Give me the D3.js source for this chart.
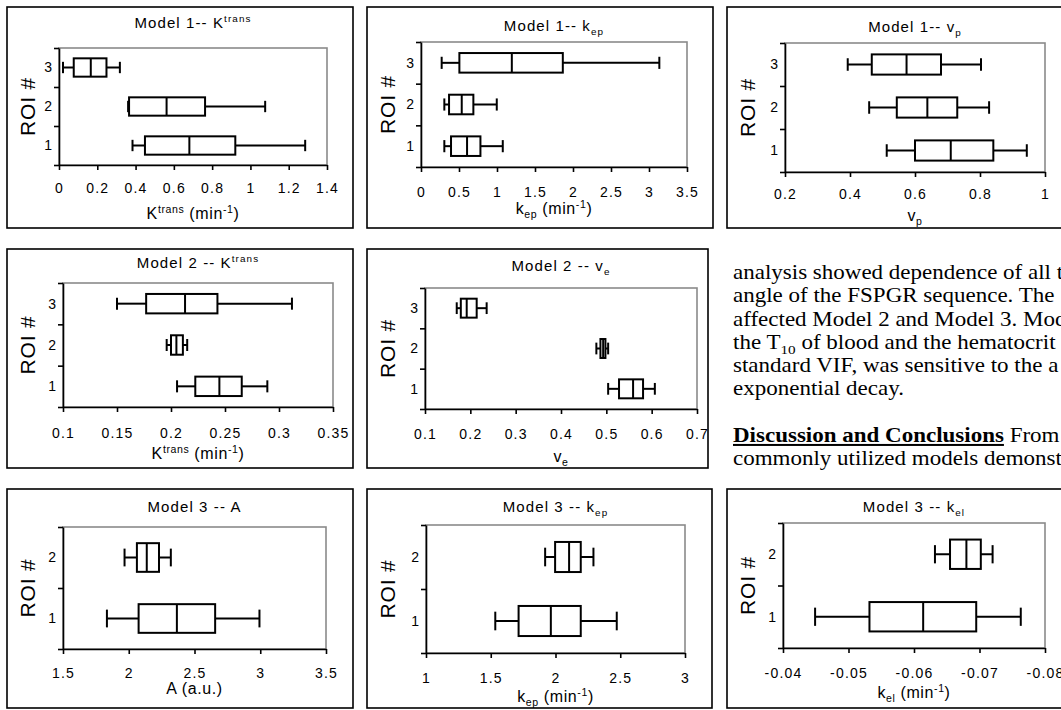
<!DOCTYPE html>
<html>
<head>
<meta charset="utf-8">
<script src="https://cdn.jsdelivr.net/npm/d3@7/dist/d3.min.js"></script>
<style>
  body { margin: 0; background: #fff; }
  svg { display: block; }
</style>
</head>
<body>
<svg id="fig" width="1061" height="710"></svg>
<script>

// five-number summaries per ROI: [min, q1, median, q3, max], ROI 1 first
var m1Ktrans = [[0.384, 0.449, 0.681, 0.921, 1.286], [0.361, 0.366, 0.562, 0.763, 1.077], [0.021, 0.077, 0.166, 0.248, 0.318]];
var m1Kep    = [[0.307, 0.395, 0.606, 0.782, 1.076], [0.307, 0.369, 0.536, 0.689, 0.997], [0.272, 0.505, 1.195, 1.866, 3.136]];
var m1Vp     = [[0.513, 0.600, 0.710, 0.841, 0.944], [0.459, 0.544, 0.638, 0.730, 0.828], [0.393, 0.467, 0.574, 0.680, 0.803]];
var m2Ktrans = [[0.2056, 0.2225, 0.2448, 0.2655, 0.2892], [0.196, 0.200, 0.205, 0.211, 0.215], [0.150, 0.177, 0.213, 0.243, 0.312]];
var m2Ve     = [[0.504, 0.528, 0.559, 0.581, 0.607], [0.478, 0.487, 0.493, 0.498, 0.504], [0.170, 0.179, 0.192, 0.214, 0.236]];
var m3A      = [[1.834, 2.075, 2.366, 2.657, 2.994], [1.968, 2.062, 2.137, 2.230, 2.320]];
var m3Kep    = [[1.535, 1.715, 1.964, 2.195, 2.473], [1.920, 1.997, 2.105, 2.195, 2.293]];
var m3Kel    = [[-0.0449, -0.0532, -0.0614, -0.0695, -0.0763], [-0.0632, -0.0655, -0.0680, -0.0702, -0.0720]];

var roi3 = ["1", "2", "3"];
var roi2 = ["1", "2"];

var ticksKtrans1 = [0, 0.2, 0.4, 0.6, 0.8, 1, 1.2, 1.4];
var ticksKep1    = [0, 0.5, 1, 1.5, 2, 2.5, 3, 3.5];
var ticksVp      = [0.2, 0.4, 0.6, 0.8, 1];
var ticksKtrans2 = [0.1, 0.15, 0.2, 0.25, 0.3, 0.35];
var ticksVe      = [0.1, 0.2, 0.3, 0.4, 0.5, 0.6, 0.7];
var ticksA       = [1.5, 2, 2.5, 3, 3.5];
var ticksKep3    = [1, 1.5, 2, 2.5, 3];
var ticksKel     = [-0.04, -0.05, -0.06, -0.07, -0.08];

var bodyLines = [
    [["analysis showed dependence of all t", ""]],
    [["angle of the FSPGR sequence. The", ""]],
    [["affected Model 2 and Model 3. Mod", ""]],
    [["the T", ""], ["10", "sub"], [" of blood and the hematocrit", ""]],
    [["standard VIF, was sensitive to the a", ""]],
    [["exponential decay.", ""]],
    null,
    [["Discussion and Conclusions", "bu"], ["  From", ""]],
    [["commonly utilized models demonst", ""]]
];

var sans = "'Liberation Sans', Arial, sans-serif";
var serif = "'Liberation Serif', 'Times New Roman', serif";

var svg = d3.select("#fig");
svg.append("rect").attr("width", 1061).attr("height", 710).attr("fill", "#fff");

// text with superscript / subscript pieces
var rich = function (sel, parts, size) {
    var shift = 0;
    parts.forEach(function (p) {
        var t = sel.append("tspan").text(p[0]);
        var want = 0;
        if (p[1] === "sup") {
            want = -0.38 * size;
            t.attr("font-size", size * 0.66);
        } else if (p[1] === "sub") {
            want = 0.25 * size;
            t.attr("font-size", size * 0.66);
        } else if (p[1] === "bu") {
            t.attr("font-weight", "bold").attr("text-decoration", "underline");
        }
        if (want !== shift) {
            t.attr("dy", want - shift);
            shift = want;
        }
    });
};

var panels = [
    {stats: m1Ktrans, rois: roi3, ticks: ticksKtrans1, domain: [0, 1.4],
     outer: [7, 7, 346, 221], plot: [59, 48, 327, 165], titleY: 28, tickY: 193, labelY: 219,
     title: [["Model 1-- K", ""], ["trans", "sup"]],
     xlabel: [["K", ""], ["trans", "sup"], [" (min", ""], ["-1", "sup"], [")", ""]]},
    {stats: m1Kep, rois: roi3, ticks: ticksKep1, domain: [0, 3.5],
     outer: [367, 7, 346, 221], plot: [421, 42, 687, 167], titleY: 31, tickY: 197, labelY: 214,
     title: [["Model 1-- k", ""], ["ep", "sub"]],
     xlabel: [["k", ""], ["ep", "sub"], [" (min", ""], ["-1", "sup"], [")", ""]]},
    {stats: m1Vp, rois: roi3, ticks: ticksVp, domain: [0.2, 1],
     outer: [727, 7, 400, 221], plot: [785, 43, 1045, 172], titleY: 32, tickY: 199, labelY: 221,
     title: [["Model 1-- v", ""], ["p", "sub"]],
     xlabel: [["v", ""], ["p", "sub"]]},
    {stats: m2Ktrans, rois: roi3, ticks: ticksKtrans2, domain: [0.1, 0.35],
     outer: [7, 249, 346, 219], plot: [63, 283, 333, 407], titleY: 268, tickY: 438, labelY: 459,
     title: [["Model 2 -- K", ""], ["trans", "sup"]],
     xlabel: [["K", ""], ["trans", "sup"], [" (min", ""], ["-1", "sup"], [")", ""]]},
    {stats: m2Ve, rois: roi3, ticks: ticksVe, domain: [0.1, 0.7],
     outer: [367, 249, 341, 219], plot: [425, 288, 697, 409], titleY: 271, tickY: 439, labelY: 462,
     title: [["Model 2 -- v", ""], ["e", "sub"]],
     xlabel: [["v", ""], ["e", "sub"]]},
    {stats: m3A, rois: roi2, ticks: ticksA, domain: [1.5, 3.5],
     outer: [7, 489, 346, 219], plot: [63, 527, 326, 649], titleY: 512, tickY: 678, labelY: 694,
     title: [["Model 3 -- A", ""]],
     xlabel: [["A (a.u.)", ""]]},
    {stats: m3Kep, rois: roi2, ticks: ticksKep3, domain: [1, 3],
     outer: [367, 489, 345, 219], plot: [426, 525, 685, 653], titleY: 512, tickY: 683, labelY: 702,
     title: [["Model 3 -- k", ""], ["ep", "sub"]],
     xlabel: [["k", ""], ["ep", "sub"], [" (min", ""], ["-1", "sup"], [")", ""]]},
    {stats: m3Kel, rois: roi2, ticks: ticksKel, domain: [-0.04, -0.08],
     outer: [727, 489, 400, 219], plot: [783, 523, 1045, 648], titleY: 512, tickY: 678, labelY: 698,
     title: [["Model 3 -- k", ""], ["el", "sub"]],
     xlabel: [["k", ""], ["el", "sub"], [" (min", ""], ["-1", "sup"], [")", ""]]}
];

var drawPanel = function (p) {
    var g = svg.append("g");
    var left = p.plot[0], top = p.plot[1], right = p.plot[2], bottom = p.plot[3];
    var n = p.rois.length;

    g.append("rect")
        .attr("x", p.outer[0]).attr("y", p.outer[1])
        .attr("width", p.outer[2]).attr("height", p.outer[3])
        .attr("fill", "#fff").attr("stroke", "#000").attr("stroke-width", 1.6);

    g.append("rect")
        .attr("x", left).attr("y", top)
        .attr("width", right - left).attr("height", bottom - top)
        .attr("fill", "#fff").attr("stroke", "#8a8a8a").attr("stroke-width", 1.6);

    var x = d3.scaleLinear().domain(p.domain).range([left, right]);
    var yl = d3.scaleLinear().domain([0, n]).range([bottom, top]);
    var band = (bottom - top) / n;
    var y = function (i) { return yl(i + 0.5); };

    var fs = 14;
    var xAxis = g.append("g")
        .attr("transform", "translate(0," + bottom + ")")
        .call(d3.axisBottom(x).tickValues(p.ticks).tickSize(5).tickSizeOuter(0)
            .tickPadding(p.tickY - bottom - 0.71 * fs - 5)
            .tickFormat(function (d) { return String(d); }));
    xAxis.selectAll("text")
        .attr("font-family", sans).attr("font-size", fs).attr("letter-spacing", 1.2).attr("fill", "#000");

    g.append("g")
        .attr("transform", "translate(" + left + ",0)")
        .call(d3.axisLeft(yl).tickValues(d3.range(n + 1)).tickSize(5).tickSizeOuter(0).tickFormat(""));

    g.selectAll(".domain, .tick line").attr("stroke", "#000").attr("stroke-width", 1.6);

    g.selectAll("text.roi")
        .data(p.rois)
        .enter().append("text")
        .attr("class", "roi")
        .attr("x", left - 7)
        .attr("y", function (d, i) { return y(i); })
        .attr("dy", "0.35em")
        .attr("text-anchor", "end")
        .attr("font-family", sans).attr("font-size", fs)
        .text(function (d) { return d; });

    var cy = top + (bottom - top) / 2;
    g.append("text")
        .attr("transform", "translate(" + (p.outer[0] + 20) + "," + cy + ") rotate(-90)")
        .attr("text-anchor", "middle").attr("dy", "0.36em")
        .attr("font-family", sans).attr("font-size", 21).attr("letter-spacing", 0.8)
        .text("ROI #");

    var title = g.append("text")
        .attr("x", (left + right) / 2).attr("y", p.titleY)
        .attr("text-anchor", "middle")
        .attr("font-family", sans).attr("font-size", 15).attr("letter-spacing", 1.1);
    rich(title, p.title, 15);

    var xl = g.append("text")
        .attr("x", (left + right) / 2).attr("y", p.labelY)
        .attr("text-anchor", "middle")
        .attr("font-family", sans).attr("font-size", 16).attr("letter-spacing", 0.6);
    rich(xl, p.xlabel, 16);

    var bh = band * 0.47, ch = bh * 0.62;
    var boxes = g.selectAll("g.box")
        .data(p.stats)
        .enter().append("g")
        .attr("class", "box")
        .attr("fill", "none").attr("stroke", "#000").attr("stroke-width", 2);

    boxes.append("line")
        .attr("x1", function (d) { return x(d[0]); }).attr("x2", function (d) { return x(d[1]); })
        .attr("y1", function (d, i) { return y(i); }).attr("y2", function (d, i) { return y(i); });
    boxes.append("line")
        .attr("x1", function (d) { return x(d[3]); }).attr("x2", function (d) { return x(d[4]); })
        .attr("y1", function (d, i) { return y(i); }).attr("y2", function (d, i) { return y(i); });
    [0, 4].forEach(function (k) {
        boxes.append("line")
            .attr("x1", function (d) { return x(d[k]); }).attr("x2", function (d) { return x(d[k]); })
            .attr("y1", function (d, i) { return y(i) - ch / 2; })
            .attr("y2", function (d, i) { return y(i) + ch / 2; });
    });
    boxes.append("rect")
        .attr("x", function (d) { return x(d[1]); })
        .attr("width", function (d) { return x(d[3]) - x(d[1]); })
        .attr("y", function (d, i) { return y(i) - bh / 2; })
        .attr("height", bh)
        .attr("fill", "#fff");
    boxes.append("line")
        .attr("x1", function (d) { return x(d[2]); }).attr("x2", function (d) { return x(d[2]); })
        .attr("y1", function (d, i) { return y(i) - bh / 2; })
        .attr("y2", function (d, i) { return y(i) + bh / 2; });
};

panels.forEach(drawPanel);

// body text column on the right (the source page is a bit stretched sideways)
var body = svg.append("g")
    .attr("transform", "translate(733,0) scale(1.15,1)")
    .attr("font-family", serif).attr("font-size", 20).attr("fill", "#000");
bodyLines.forEach(function (line, i) {
    if (!line) return;
    var t = body.append("text").attr("x", 0).attr("y", 279 + i * 23.3);
    rich(t, line, 20);
});

</script>
</body>
</html>
